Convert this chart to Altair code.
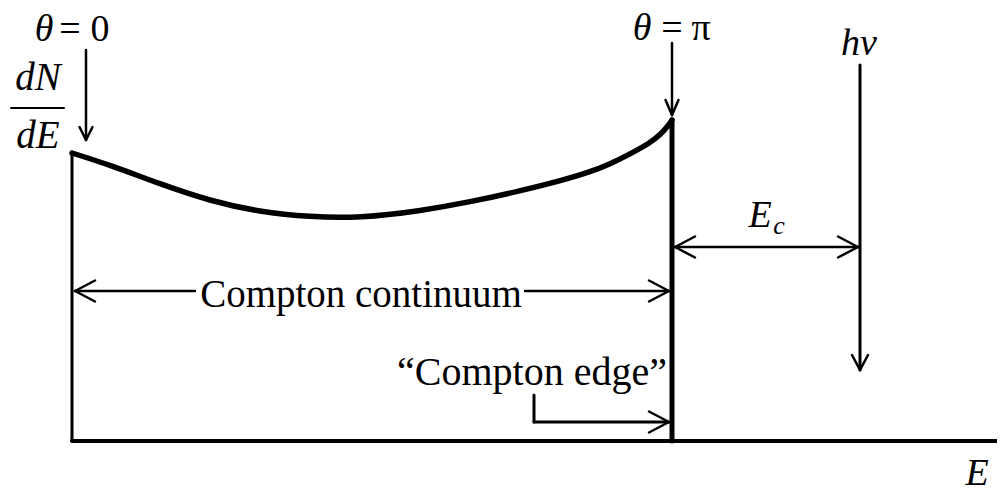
import altair as alt
import pandas as pd

# ---- data (energy E and dN/dE in arbitrary schematic units) ----
curve_E = [0.00, 0.38, 0.88, 1.38, 1.88, 2.38, 2.88, 3.48, 3.98, 4.48, 4.88, 5.18, 5.38, 5.58, 5.78, 5.88, 5.96, 6.00]
curve_N = [2.88, 2.76, 2.57, 2.40, 2.29, 2.24, 2.23, 2.30, 2.39, 2.50, 2.60, 2.69, 2.77, 2.87, 2.98, 3.06, 3.15, 3.21]

edge_E = 6.00        # Compton edge (theta = pi)
hv_E = 7.88          # photon energy h*nu
axis_top_N = 2.89
axis_end_E = 9.30

# plain segments: E1, N1, E2, N2, stroke width
seg_E1 = [0.00, 0.00, edge_E, hv_E, 0.14, edge_E, 6.03, 1.23, 4.53, 4.62, 4.62, -0.61]
seg_N1 = [0.00, 0.00, 0.00, 3.76, 3.91, 3.98, 1.94, 1.50, 1.50, 0.46, 0.19, 3.33]
seg_E2 = [0.00, axis_end_E, edge_E, hv_E, 0.14, edge_E, 7.86, 0.03, 5.97, 4.62, 5.97, -0.08]
seg_N2 = [axis_top_N, 0.00, 3.21, 0.71, 3.01, 3.26, 1.94, 1.50, 1.50, 0.19, 0.19, 3.33]
seg_W = [3, 4, 5, 3, 2.5, 2.5, 2.5, 2.5, 2.5, 3, 3, 2]

# arrow heads: tip E, tip N, direction (dE, dN), length, half width
head_E = [0.14, edge_E, hv_E, 6.03, 7.86, 0.03, 5.97, 5.97]
head_N = [3.01, 3.26, 0.71, 1.94, 1.94, 1.50, 1.50, 0.19]
head_dE = [0, 0, 0, -1, 1, -1, 1, 1]
head_dN = [-1, -1, -1, 0, 0, 0, 0, 0]
head_L = [0.13, 0.15, 0.15, 0.20, 0.20, 0.20, 0.20, 0.20]
head_W = [0.065, 0.065, 0.08, 0.105, 0.105, 0.105, 0.105, 0.105]

# labels
ital_text = ["θ", "θ", "dN", "dE", "hv", "E", "c", "E"]
ital_E = [-0.28, 5.70, -0.34, -0.34, 7.87, 6.88, 7.07, 9.05]
ital_N = [4.00, 4.01, 3.51, 2.93, 3.86, 2.14, 2.07, -0.44]
ital_size = [38, 38, 39, 39, 38, 38, 26, 38]

up_text = ["=", "0", "=", "π", "Compton continuum", "“Compton edge”"]
up_E = [-0.02, 0.28, 6.00, 6.29, 2.89, 4.60]
up_N = [4.00, 4.00, 4.01, 4.01, 1.34, 0.56]
up_size = [38, 38, 38, 38, 39, 40]

# ---- build tables ----
curve = pd.DataFrame({"E": curve_E, "N": curve_N})

rows = []
for a, b, c, d, w in zip(seg_E1, seg_N1, seg_E2, seg_N2, seg_W):
    rows.append({"E": a, "N": b, "E2": c, "N2": d, "w": w})
for te, tn, de, dn, L, W in zip(head_E, head_N, head_dE, head_dN, head_L, head_W):
    pe, pn = -dn, de
    for s in (1, -1):
        rows.append({"E": te, "N": tn,
                     "E2": te - L * de + s * W * pe,
                     "N2": tn - L * dn + s * W * pn, "w": 2.5})
segs = pd.DataFrame(rows)

ital = pd.DataFrame({"t": ital_text, "E": ital_E, "N": ital_N, "s": ital_size})
up = pd.DataFrame({"t": up_text, "E": up_E, "N": up_N, "s": up_size})

W_PX, H_PX = 989, 481
xs = alt.Scale(domain=[-0.64, -0.64 + W_PX / 100], nice=False, zero=False)
ys = alt.Scale(domain=[4.33 - H_PX / 100, 4.33], nice=False, zero=False)

X = lambda f: alt.X(f, type="quantitative", scale=xs, axis=None)
Y = lambda f: alt.Y(f, type="quantitative", scale=ys, axis=None)

line = alt.Chart(curve).mark_line(
    interpolate="basis", color="black", strokeWidth=5.5, strokeCap="round"
).encode(x=X("E"), y=Y("N"), order=alt.Order("E:Q"))

rules = alt.Chart(segs).mark_rule(color="black", strokeCap="round").encode(
    x=X("E"), y=Y("N"), x2="E2:Q", y2="N2:Q",
    strokeWidth=alt.StrokeWidth("w:Q", scale=None),
)

t_ital = alt.Chart(ital).mark_text(
    font="Liberation Serif", fontStyle="italic", color="black",
    align="center", baseline="alphabetic",
).encode(x=X("E"), y=Y("N"), text="t:N", size=alt.Size("s:Q", scale=None))

t_up = alt.Chart(up).mark_text(
    font="Liberation Serif", color="black",
    align="center", baseline="alphabetic",
).encode(x=X("E"), y=Y("N"), text="t:N", size=alt.Size("s:Q", scale=None))

chart = alt.layer(line, rules, t_ital, t_up).properties(
    width=W_PX, height=H_PX,
    autosize=alt.AutoSizeParams(type="none"),
    padding=0, background="white",
).configure_view(stroke=None)

chart.save("out.html", embed_options={"renderer": "svg", "actions": False})
